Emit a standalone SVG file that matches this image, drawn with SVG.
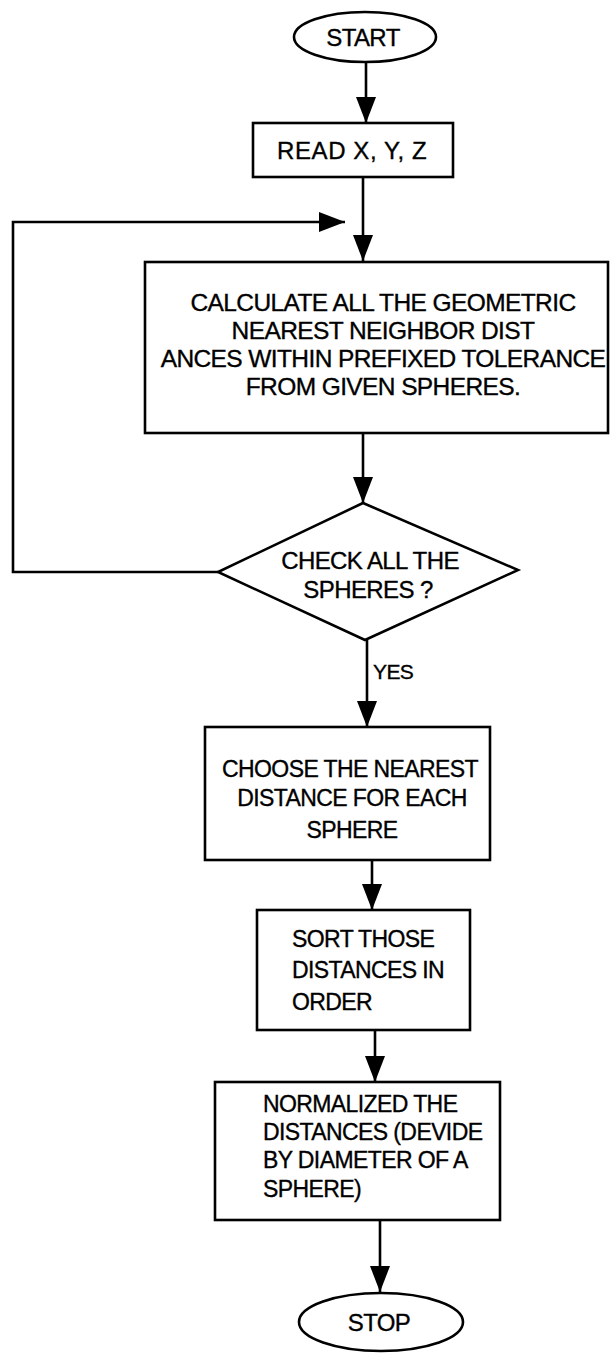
<svg xmlns="http://www.w3.org/2000/svg" width="610" height="1355" viewBox="0 0 610 1355">
  <style>
    .shape { fill: #fff; stroke: #000; stroke-width: 2.6; }
    .wire { fill: none; stroke: #000; stroke-width: 2.6; }
    .label { font-family: "Liberation Sans", Arial, sans-serif; font-size: 24px; fill: #000; stroke: #000; stroke-width: 0.35; letter-spacing: -0.6px; }
    .mid { text-anchor: middle; }
    .big { font-size: 24.5px; }
    .small { font-size: 23px; }
  </style>
  <defs>
    <marker id="head" markerUnits="userSpaceOnUse" markerWidth="26" markerHeight="20" refX="26" refY="10" orient="auto" viewBox="0 0 26 20">
      <path d="M0,0 L26,10 L0,20 Z" fill="#000"/>
    </marker>
  </defs>

  <rect width="610" height="1355" fill="#fff"/>

  <!-- connectors -->
  <g id="connectors">
    <line class="wire" x1="366" y1="62" x2="366" y2="123" marker-end="url(#head)"/>
    <line class="wire" x1="363" y1="177" x2="363" y2="261" marker-end="url(#head)"/>
    <line class="wire" x1="363" y1="433" x2="363" y2="503" marker-end="url(#head)"/>
    <polyline class="wire" points="218,572 13,572 13,222 345,222" marker-end="url(#head)"/>
    <line class="wire" x1="367" y1="640" x2="367" y2="727" marker-end="url(#head)"/>
    <text class="label" x="373" y="679" style="font-size:21px">YES</text>
    <line class="wire" x1="372" y1="860" x2="372" y2="910" marker-end="url(#head)"/>
    <line class="wire" x1="375" y1="1030" x2="375" y2="1082" marker-end="url(#head)"/>
    <line class="wire" x1="380" y1="1220" x2="380" y2="1292" marker-end="url(#head)"/>
  </g>

  <!-- terminator: start -->
  <g id="start">
    <ellipse class="shape" cx="365" cy="37" rx="71" ry="25"/>
    <text class="label mid" x="363" y="46">START</text>
  </g>

  <!-- input -->
  <g id="read">
    <rect class="shape" x="253" y="123" width="200" height="54"/>
    <text class="label" x="277" y="159" style="letter-spacing:0.6px">READ X, Y, Z</text>
  </g>

  <!-- distance calculation -->
  <g id="calculate">
    <rect class="shape" x="145" y="262" width="463" height="171"/>
    <text class="label big mid" x="383" y="311">CALCULATE ALL THE GEOMETRIC</text>
    <text class="label big mid" x="383" y="339">NEAREST NEIGHBOR DIST</text>
    <text class="label big mid" x="383" y="367">ANCES WITHIN PREFIXED TOLERANCE</text>
    <text class="label big mid" x="383" y="395">FROM GIVEN SPHERES.</text>
  </g>

  <!-- decision -->
  <g id="check">
    <polygon class="shape" points="363,503 518,570 365,640 218,572"/>
    <text class="label mid" x="370" y="569">CHECK ALL THE</text>
    <text class="label mid" x="368" y="598">SPHERES ?</text>
  </g>

  <!-- nearest distance -->
  <g id="choose">
    <rect class="shape" x="205" y="727" width="285" height="133"/>
    <text class="label small mid" x="350" y="777">CHOOSE THE NEAREST</text>
    <text class="label small mid" x="352" y="806">DISTANCE FOR EACH</text>
    <text class="label small mid" x="352" y="838">SPHERE</text>
  </g>

  <!-- sorting -->
  <g id="sort">
    <rect class="shape" x="257" y="910" width="213" height="120"/>
    <text class="label small" x="292" y="947">SORT THOSE</text>
    <text class="label small" x="292" y="978">DISTANCES IN</text>
    <text class="label small" x="292" y="1010">ORDER</text>
  </g>

  <!-- normalisation -->
  <g id="normalize">
    <rect class="shape" x="215" y="1082" width="285" height="138"/>
    <text class="label small" x="263" y="1112">NORMALIZED THE</text>
    <text class="label small" x="263" y="1140">DISTANCES (DEVIDE</text>
    <text class="label small" x="263" y="1168">BY DIAMETER OF A</text>
    <text class="label small" x="263" y="1197">SPHERE)</text>
  </g>

  <!-- terminator: stop -->
  <g id="stop">
    <ellipse class="shape" cx="381" cy="1322" rx="82" ry="29"/>
    <text class="label mid" x="379" y="1331">STOP</text>
  </g>
</svg>
